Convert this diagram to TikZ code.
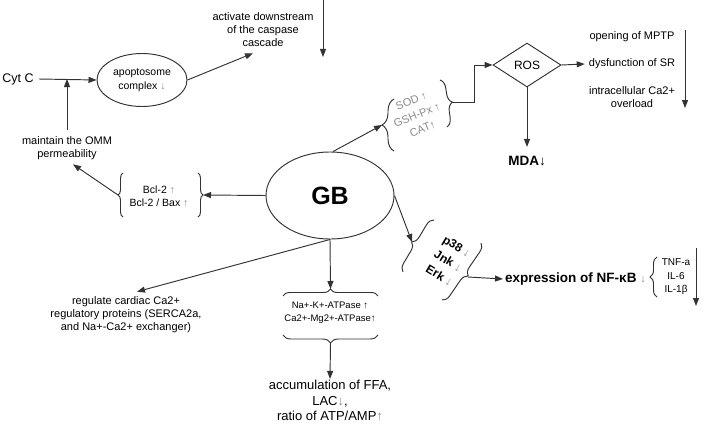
\documentclass[tikz,border=0pt]{standalone}
\usepackage{fontspec}
\setmainfont{Liberation Sans}
\usetikzlibrary{arrows.meta,shapes.geometric,decorations.pathreplacing}
\definecolor{lc}{HTML}{333333}
\definecolor{gy}{HTML}{8A8A8A}
\newcommand{\myfs}[2]{\fontsize{#1}{#2}\selectfont}
\begin{document}
\begin{tikzpicture}[x=1pt,y=-1pt,
  lnst/.style={draw=lc,line width=0.95pt},
  arr/.style={draw=lc,line width=0.95pt,-{Triangle[length=8pt,width=6pt]}},
  brc/.style={draw=lc,line width=0.95pt,decorate,decoration={brace,amplitude=#1}},
  t/.style={inner sep=1pt,align=center,text=black}]
\useasboundingbox (0,0) rectangle (708,428);

% nodes
\node[t,font=\myfs{12.5}{15}] (cytc) at (18,79) {Cyt C};
\node[ellipse,lnst,minimum width=90pt,minimum height=53pt,inner sep=0,align=center,font=\myfs{10.5}{14}] (apo) at (142,80) {apoptosome\\complex \textcolor{gy}{↓}};
\node[t,font=\myfs{11}{13}] (act) at (263,30) {activate downstream\\of the caspase\\cascade};
\node[t,font=\myfs{11}{13}] (omm) at (67,148.5) {maintain the OMM\\permeability};
\node[t,font=\myfs{10.5}{13}] (bcl) at (159,196.5) {Bcl-2 \textcolor{gy}{↑}\\Bcl-2 / Bax \textcolor{gy}{↑}};
\node[ellipse,lnst,minimum width=128pt,minimum height=87pt,inner sep=0,font=\myfs{25}{30}\bfseries] (gb) at (330,195.5) {GB};
\node[t,rotate=22,text=gy,font=\myfs{11}{15}] (sod) at (417,115) {SOD ↑\\GSH-Px ↑\\CAT↑};
\node[diamond,lnst,minimum width=68pt,minimum height=44pt,inner sep=0,font=\myfs{12}{14}] (ros) at (527,65) {ROS};
\node[t,font=\myfs{11}{13}] (mptp) at (632,37) {opening of MPTP};
\node[t,font=\myfs{11}{13}] (dys) at (632,64) {dysfunction of SR};
\node[t,font=\myfs{11}{13}] (ca) at (632,97.5) {intracellular Ca2+\\overload};
\node[t,font=\myfs{13.5}{16}\bfseries] (mda) at (527,161) {MDA↓};
\node[t,rotate=-31,font=\myfs{12}{17}\bfseries] (p38) at (448,261) {p38 \textcolor{gy}{\mdseries↓}\\Jnk \textcolor{gy}{\mdseries↓}\\Erk \textcolor{gy}{\mdseries↓}};
\node[t,anchor=west,inner sep=0,font=\myfs{13.5}{16}\bfseries] (nf) at (505,279) {expression of NF-κB \textcolor{gy}{\mdseries\myfs{11}{13}↓}};
\node[t,font=\myfs{10}{13.5}] (cyt) at (676,277) {TNF-a\\IL-6\\IL-1β};
\node[t,font=\myfs{9.5}{13}] (atp) at (330,312.5) {Na+-K+-ATPase ↑\\Ca2+-Mg2+-ATPase↑};
\node[t,font=\myfs{13}{15.5}] (acc) at (330,400.5) {accumulation of FFA,\\LAC\textcolor{gy}{↓},\\ratio of ATP/AMP\textcolor{gy}{↑}};
\node[t,font=\myfs{11}{13}] (reg) at (126,315) {regulate cardiac Ca2+\\regulatory proteins (SERCA2a,\\and Na+-Ca2+ exchanger)};

% braces
\draw[brc=5] (123,217) -- (123,173);
\coordinate (bclL) at (118,195);
\draw[brc=5] (198,173) -- (198,217);
\coordinate (bclR) at (203,195);
\draw[brc=12] (394,151) -- (394,99);
\coordinate (sodL) at (382,125);
\draw[brc=9] (440,80) -- (447,127);
\coordinate (sodR) at (452,102);
\draw[brc=8] (403,272) -- (434,220);
\coordinate (p38L) at (412,242);
\draw[brc=8] (481,243) -- (442,300);
\coordinate (p38R) at (468,277);
\draw[brc=7] (657,297) -- (657,257);
\coordinate (cytL) at (650,277);
\draw[brc=7] (283,296) -- (378,296);
\coordinate (atpT) at (330.5,289);
\draw[brc=8] (378,335) -- (283,335);
\coordinate (atpB) at (330.5,343);

% free-end coordinates
\coordinate (j1) at (67,79);
\coordinate (t1) at (323,0);
\coordinate (t2) at (323,57);
\coordinate (elb) at (474,65);
\coordinate (r1) at (685,30);
\coordinate (r2) at (685,108);
\coordinate (c1) at (696,248);
\coordinate (c2) at (696,306);

% connectors
\draw[arr] ([xshift=4pt]cytc.east) -- (apo.west);
\draw[arr] ([yshift=6pt]omm.north) -- (j1);
\draw[arr] (apo.east) -- ([xshift=-10pt,yshift=-5pt]act.south);
\draw[arr] (t1) -- (t2);
\draw[arr] (bclL) -- ([xshift=6pt,yshift=-3pt]omm.south);
\draw[arr] (gb.west) -- (bclR);
\draw[arr] ([xshift=3pt]gb.north) -- (sodL);
\draw[arr] (sodR) -| (elb) -- (ros.west);
\draw[arr] (ros.east) -- ([xshift=-3pt]dys.west);
\draw[arr] (r1) -- (r2);
\draw[arr] (ros.south) -- ([yshift=8pt]mda.north);
\draw[arr] (gb.east) -- (p38L);
\draw[arr] (p38R) -- ([xshift=-2pt]nf.west);
\draw[arr] (c1) -- (c2);
\draw[arr] (gb.south) -- (atpT);
\draw[arr] (gb.south) -- ([xshift=11pt,yshift=4pt]reg.north);
\draw[arr] (atpB) -- (acc.north);
\end{tikzpicture}
\end{document}
